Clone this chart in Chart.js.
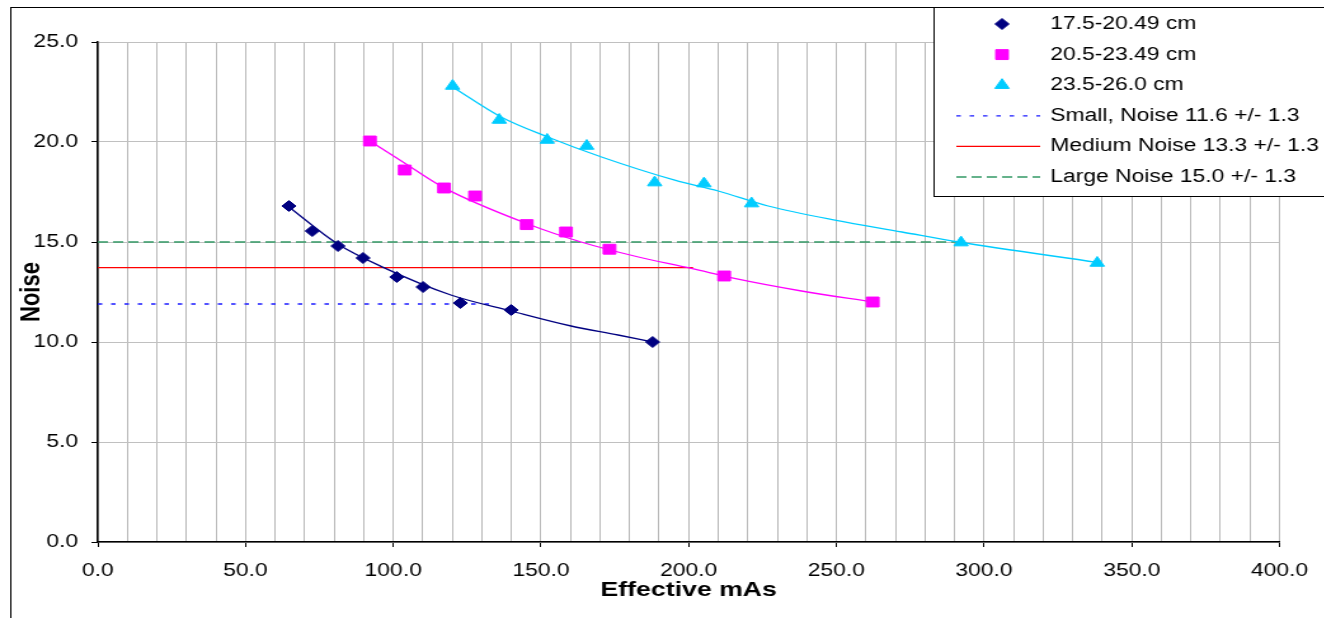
<!DOCTYPE html>
<html>
<head>
<meta charset="utf-8">
<script src="https://cdn.jsdelivr.net/npm/chart.js@4.4.1/dist/chart.umd.min.js"></script>
<style>
  html, body { margin: 0; padding: 0; background: #fff; overflow: hidden; }
  /* the original picture is stretched sideways, so draw narrow and stretch */
  #wrap { width: 1043px; height: 618px; transform: scaleX(1.27); transform-origin: 0 0; }
</style>
</head>
<body>
<div id="wrap"><canvas id="myChart" width="1043" height="618"></canvas></div>
<script>
// measured points, one pair of arrays per patient size group
var navyX = [64.7, 72.6, 81.3, 89.8, 101.2, 110.1, 122.7, 139.9, 187.8];
var navyY = [16.8, 15.55, 14.8, 14.2, 13.25, 12.75, 11.95, 11.6, 10.0];
var pinkX = [92.1, 103.9, 117.2, 127.7, 145.2, 158.5, 173.2, 212.0, 262.3];
var pinkY = [20.05, 18.6, 17.7, 17.3, 15.87, 15.5, 14.64, 13.3, 12.0];
var cyanX = [120.1, 135.9, 152.1, 165.5, 188.5, 205.2, 221.3, 292.2, 338.3];
var cyanY = [22.8, 21.1, 20.1, 19.8, 17.97, 17.92, 16.92, 14.97, 13.95];

// trend curves
var navyTrendX = [64.7, 81.2, 96.8, 119.5, 139.9, 160.2, 176.1, 187.8];
var navyTrendY = [16.75, 14.9, 13.72, 12.35, 11.55, 10.8, 10.35, 10.0];
var pinkTrendX = [92.1, 102.5, 117.1, 145.6, 163.6, 181.6, 200.9, 215.5, 238.2, 262.3];
var pinkTrendY = [20.05, 19.08, 17.72, 15.9, 15.0, 14.3, 13.68, 13.18, 12.55, 12.0];
var cyanTrendX = [120.1, 136.5, 152.3, 170.5, 195.3, 210.0, 226.9, 249.5, 272.2, 291.4, 338.3];
var cyanTrendY = [22.75, 21.25, 20.25, 19.25, 18.09, 17.55, 16.8, 16.09, 15.5, 15.0, 13.98];

var groupLabels = ['17.5-20.49 cm', '20.5-23.49 cm', '23.5-26.0 cm'];

// horizontal noise reference lines
var refLabels = ['Small, Noise 11.6 +/- 1.3', 'Medium Noise 13.3 +/- 1.3', 'Large Noise 15.0 +/- 1.3'];
var refY = [11.9, 13.72, 15.0];
var refEndX = [134.8, 201.5, 291.4];

// axis ticks
var xMajor = [0, 50, 100, 150, 200, 250, 300, 350, 400];
var yTicks = [0, 5, 10, 15, 20, 25];

var FONT = '"Liberation Sans", Arial, sans-serif';

function pts(xs, ys) {
  return xs.map(function (x, i) { return { x: x, y: ys[i] }; });
}

function isMajor(v) {
  return xMajor.some(function (m) { return Math.abs(m - v) < 1e-6; });
}

var datasets = [
  { label: groupLabels[0], data: pts(navyX, navyY), legendRow: 0, showLine: false,
    pointStyle: 'rectRot', pointRadius: 5.5, backgroundColor: '#000080', borderColor: '#000080', pointBorderWidth: 1 },
  { label: groupLabels[1], data: pts(pinkX, pinkY), legendRow: 1, showLine: false,
    pointStyle: 'rect', pointRadius: 7, backgroundColor: '#ff00ff', borderColor: '#ff00ff', pointBorderWidth: 1 },
  { label: groupLabels[2], data: pts(cyanX, cyanY), legendRow: 2, showLine: false,
    pointStyle: 'triangle', pointRadius: 6.5, backgroundColor: '#00ccff', borderColor: '#00ccff', pointBorderWidth: 1 },

  { label: 'trend 1', data: pts(navyTrendX, navyTrendY), showLine: true, pointRadius: 0,
    borderColor: '#000080', borderWidth: 1.3, cubicInterpolationMode: 'monotone' },
  { label: 'trend 2', data: pts(pinkTrendX, pinkTrendY), showLine: true, pointRadius: 0,
    borderColor: '#ff00ff', borderWidth: 1.3, cubicInterpolationMode: 'monotone' },
  { label: 'trend 3', data: pts(cyanTrendX, cyanTrendY), showLine: true, pointRadius: 0,
    borderColor: '#00ccff', borderWidth: 1.3, cubicInterpolationMode: 'monotone' },

  { label: refLabels[0], data: [{ x: 0, y: refY[0] }, { x: refEndX[0], y: refY[0] }], legendRow: 3,
    showLine: true, pointRadius: 0, borderColor: '#1a1aff', borderWidth: 1.3, borderDash: [3.5, 7] },
  { label: refLabels[1], data: [{ x: 0, y: refY[1] }, { x: refEndX[1], y: refY[1] }], legendRow: 4,
    showLine: true, pointRadius: 0, borderColor: '#ff0000', borderWidth: 1.3 },
  { label: refLabels[2], data: [{ x: 0, y: refY[2] }, { x: refEndX[2], y: refY[2] }], legendRow: 5,
    showLine: true, pointRadius: 0, borderColor: '#339966', borderWidth: 1.3, borderDash: [8, 4] }
];

// frame + boxed legend sitting over the top right corner
var boxLegend = {
  id: 'boxLegend',
  afterDraw: function (chart) {
    var ctx = chart.ctx;
    ctx.save();
    ctx.strokeStyle = '#000';
    ctx.lineWidth = 1;
    ctx.strokeRect(8.5, 7.5, 3000, 3000);

    ctx.fillStyle = '#fff';
    ctx.fillRect(735.5, 7.5, 400, 189);
    ctx.strokeRect(735.5, 7.5, 400, 189);

    chart.data.datasets.forEach(function (d) {
      if (d.legendRow === undefined) return;
      var y = 24 + d.legendRow * 30.6;
      if (d.showLine) {
        ctx.beginPath();
        ctx.setLineDash(d.borderDash || []);
        ctx.strokeStyle = d.borderColor;
        ctx.lineWidth = d.borderWidth;
        ctx.moveTo(753, y);
        ctx.lineTo(819, y);
        ctx.stroke();
        ctx.setLineDash([]);
      } else {
        ctx.fillStyle = d.backgroundColor;
        ctx.strokeStyle = d.borderColor;
        ctx.lineWidth = 1;
        Chart.helpers.drawPoint(ctx, { pointStyle: d.pointStyle, radius: d.pointRadius, rotation: 0, borderWidth: 1 }, 789, y);
      }
      ctx.fillStyle = '#000';
      ctx.font = '18px ' + FONT;
      ctx.textAlign = 'left';
      ctx.textBaseline = 'middle';
      ctx.fillText(d.label, 827, y);
    });
    ctx.restore();
  }
};

var config = {
  type: 'scatter',
  data: { datasets: datasets },
  options: {
    responsive: false,
    animation: false,
    devicePixelRatio: 1,
    layout: { padding: { left: 9, top: 42, right: 18, bottom: 0 } },
    plugins: { legend: { display: false }, tooltip: { enabled: false } },
    scales: {
      x: {
        type: 'linear', min: 0, max: 400,
        afterFit: function (s) { s.height = 76; },
        ticks: {
          stepSize: 10, autoSkip: false, maxRotation: 0, padding: 13, color: '#000',
          font: { size: 18, family: FONT },
          callback: function (v) { return isMajor(v) ? v.toFixed(1) : ''; }
        },
        grid: {
          color: '#b8b8b8', lineWidth: 1, tickLength: 5,
          tickColor: function (c) { return c.tick && isMajor(c.tick.value) ? '#000' : 'rgba(0,0,0,0)'; }
        },
        border: { color: '#000', width: 1.5 },
        title: { display: true, text: 'Effective mAs', color: '#000',
          font: { size: 21, weight: 'bold', family: FONT }, padding: { top: 0, bottom: 15 } }
      },
      y: {
        type: 'linear', min: 0, max: 25,
        afterFit: function (s) { s.width = 68; },
        afterBuildTicks: function (s) { s.ticks = yTicks.map(function (v) { return { value: v }; }); },
        ticks: {
          padding: 10.6, color: '#000', font: { size: 18, family: FONT },
          callback: function (v) { return v.toFixed(1); }
        },
        grid: { color: '#c0c0c0', lineWidth: 1, tickLength: 5, tickColor: '#000' },
        border: { color: '#000', width: 1.5 },
        title: { display: true, text: 'Noise', color: '#000',
          font: { size: 22, weight: 'bold', family: FONT }, padding: { top: 3, bottom: 0 } }
      }
    }
  },
  plugins: [boxLegend]
};

var myChart = new Chart(document.getElementById('myChart'), config);
</script>
</body>
</html>
